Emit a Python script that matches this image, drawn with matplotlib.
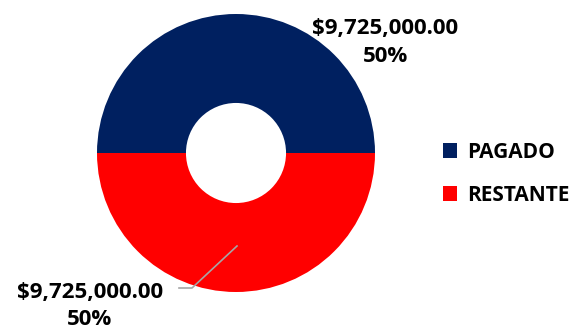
import matplotlib
matplotlib.use("Agg")
import matplotlib.pyplot as plt

categories = ["PAGADO", "RESTANTE"]
values = [9725000.00, 9725000.00]
colors = ["#002060", "#FF0000"]

W, H = 579, 332
fig = plt.figure(figsize=(W / 100, H / 100), dpi=100)
ax = fig.add_axes([0, 0, 1, 1])

cx, cy, r = 236, H - 153, 139
wedges, _ = ax.pie(values, colors=colors, startangle=0, counterclock=True,
                   center=(cx, cy), radius=r, frame=True,
                   wedgeprops=dict(width=r * 0.64, edgecolor="none"))
ax.set_xlim(0, W)
ax.set_ylim(0, H)
ax.set_aspect("equal")
ax.axis("off")

total = sum(values)
fam = ["Open Sans", "DejaVu Sans"]
font = dict(family=fam, fontsize=16, fontweight="bold", color="#000000")
labels = [f"${v:,.2f}\n{v / total:.0%}" for v in values]

ax.text(385, H - 42.5, labels[0], ha="center", va="center", linespacing=1.38, **font)
ax.text(90, H - 306, labels[1], ha="center", va="center", linespacing=1.38, **font)
ax.plot([237, 192, 179], [H - 246, H - 288, H - 288], color="#A6A6A6", lw=1.2)

leg = fig.legend(wedges, categories, loc="center left",
                 bbox_to_anchor=(424 / W, 1 - 174 / H), frameon=False,
                 handlelength=0.7, handleheight=0.7, handletextpad=0.45,
                 labelspacing=1.05, prop=dict(family=fam, size=15, weight="bold"))

fig.savefig("out.png", dpi=100)
